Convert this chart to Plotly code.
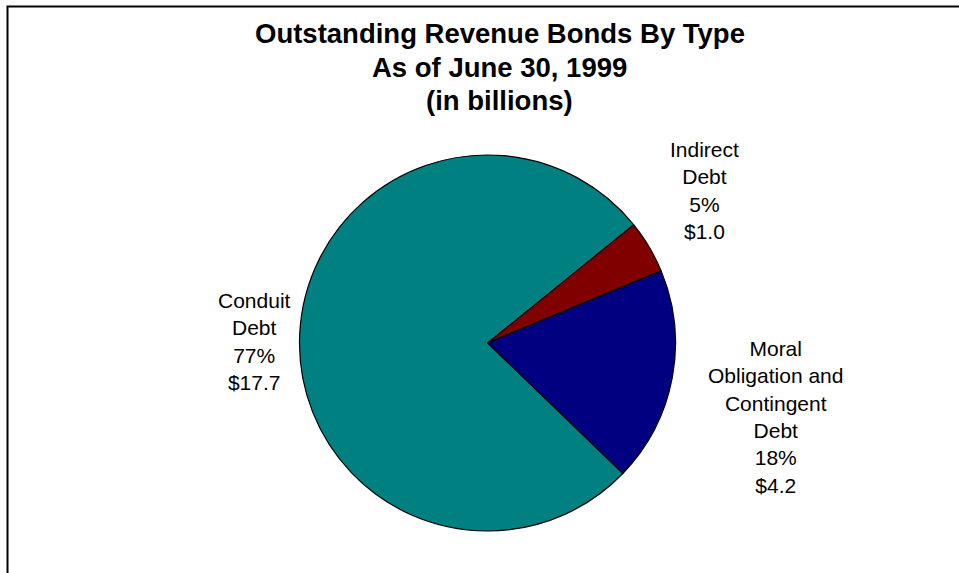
import plotly.graph_objects as go

# Outstanding revenue bonds by type, June 30, 1999 (billions of dollars)
categories = ["Indirect", "Moral Obligation and Contingent", "Conduit"]
label_lines = [["Indirect", "Debt"], ["Moral", "Obligation and", "Contingent", "Debt"], ["Conduit", "Debt"]]
values = [1.049, 4.24, 17.66]
colors = ["#800000", "#000080", "#008080"]
title_lines = ["Outstanding Revenue Bonds By Type", "As of June 30, 1999", "(in billions)"]

W, H = 959, 573
FONT = "Liberation Sans, Arial, Helvetica, sans-serif"


def px(x, y):
    """Pixel position -> paper coordinates (margins are zero)."""
    return x / W, 1 - y / H


# Pie placement in pixels
cx, cy, r = 487.5, 343.0, 188.0
x0, y0 = px(cx - r, cy + r)
x1, y1 = px(cx + r, cy - r)

fig = go.Figure(
    go.Pie(
        labels=categories,
        values=values,
        sort=False,
        direction="clockwise",
        rotation=51,
        marker=dict(colors=colors, line=dict(color="black", width=1.2)),
        textinfo="none",
        hoverinfo="label+value+percent",
        showlegend=False,
        domain=dict(x=[x0, x1], y=[y0, y1]),
    )
)

total = sum(values)
label_pos = [(704, 191), (775, 416.5), (254, 341.5)]
for lines, v, (lx, ly) in zip(label_lines, values, label_pos):
    pct = round(100 * v / total)
    text = "<br>".join(lines + [f"{pct}%", f"${v:.1f}"])
    ax, ay = px(lx, ly)
    fig.add_annotation(
        x=ax, y=ay, xref="paper", yref="paper",
        text=text, showarrow=False, align="center",
        xanchor="center", yanchor="middle",
        font=dict(family=FONT, size=21, color="black"),
    )

# Title, one line at a time
for line, ly in zip(title_lines, [34, 67, 100]):
    tx, ty = px(499.5, ly)
    fig.add_annotation(
        x=tx, y=ty, xref="paper", yref="paper",
        text=f"<b>{line}</b>",
        showarrow=False, align="center", xanchor="center", yanchor="middle",
        font=dict(family=FONT, size=27.5, color="black"),
    )

# Chart frame
bx0, by1 = px(7.5, 6.5)
fig.add_shape(
    type="rect", xref="paper", yref="paper",
    x0=bx0, y0=-0.05, x1=1.05, y1=by1,
    line=dict(color="black", width=2), fillcolor="rgba(0,0,0,0)",
)

fig.update_layout(
    width=W, height=H,
    margin=dict(l=0, r=0, t=0, b=0),
    paper_bgcolor="white", plot_bgcolor="white",
    font=dict(family=FONT),
)

fig.write_html("out.html")
